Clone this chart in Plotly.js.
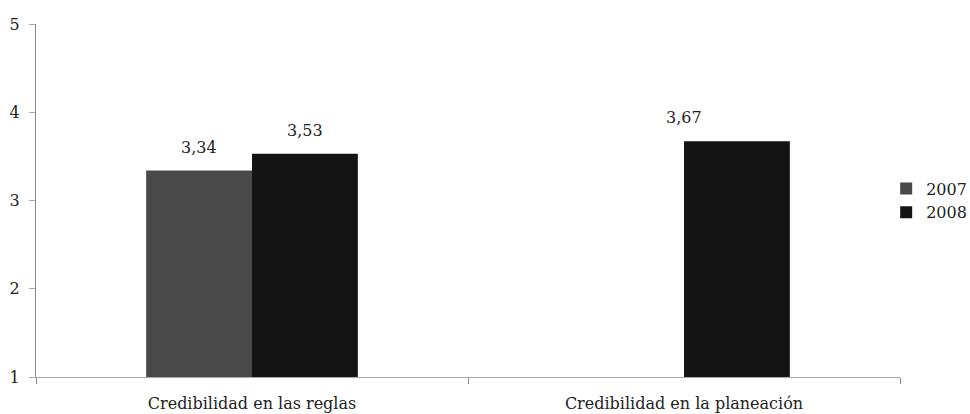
<!DOCTYPE html>
<html>
<head>
<meta charset="utf-8">
<script src="https://cdn.plot.ly/plotly-3.0.1.min.js"></script>
<style>html,body{margin:0;padding:0;background:#fff;}#chart{width:970px;height:414px;}</style>
</head>
<body>
<div id="chart"></div>
<script>
var categories = ["Credibilidad en las reglas", "Credibilidad en la planeación"];
var values2007 = [3.34, null];
var values2008 = [3.53, 3.67];
var seriesNames = ["2007", "2008"];
var yTicks = [1, 2, 3, 4, 5];

var FONT = "DejaVu Serif";
var FS = 16;
function fmt(v) { return v.toFixed(2).replace('.', ','); }

var traces = [
  {type: 'bar', name: seriesNames[0], x: categories, y: values2007, marker: {color: '#494949'}},
  {type: 'bar', name: seriesNames[1], x: categories, y: values2008, marker: {color: '#141414'}}
];

var annotations = [];
var series = [values2007, values2008];
series.forEach(function (vals, si) {
  vals.forEach(function (v, ci) {
    if (v === null) return;
    annotations.push({
      x: categories[ci], y: v, xref: 'x', yref: 'y',
      xshift: (si === 0 ? -1 : 1) * 53 * (values2007[ci] === null ? 0 : 1),
      text: fmt(v), showarrow: false, yanchor: 'bottom', yshift: 12,
      font: {family: FONT, size: FS, color: '#222'}
    });
  });
});

var layout = {
  width: 970, height: 414,
  margin: {l: 36, r: 70, t: 24, b: 37, autoexpand: false},
  paper_bgcolor: '#fff', plot_bgcolor: '#fff',
  font: {family: FONT, size: FS, color: '#222'},
  barmode: 'group', bargap: 0.51, bargroupgap: 0,
  showlegend: true,
  legend: {x: 0.984, xanchor: 'left', y: 0.5, yanchor: 'middle', font: {family: FONT, size: FS, color: '#222'}, itemwidth: 30},
  xaxis: {
    type: 'category', showline: true, linecolor: '#a8a8a8', linewidth: 1,
    ticks: 'outside', tickson: 'boundaries', ticklen: 6, tickcolor: '#888',
    showgrid: false, zeroline: false, ticklabelstandoff: 12,
    tickfont: {family: FONT, size: FS, color: '#222'}
  },
  yaxis: {
    range: [1, 5], tickvals: yTicks, ticktext: yTicks.map(String),
    showline: true, linecolor: '#888', linewidth: 1,
    ticks: 'outside', ticklen: 6, tickcolor: '#a8a8a8',
    showgrid: false, zeroline: false, ticklabelstandoff: 6,
    tickfont: {family: FONT, size: FS, color: '#222'}
  },
  annotations: annotations
};

Plotly.newPlot('chart', traces, layout, {displayModeBar: false, staticPlot: true});
</script>
</body>
</html>
